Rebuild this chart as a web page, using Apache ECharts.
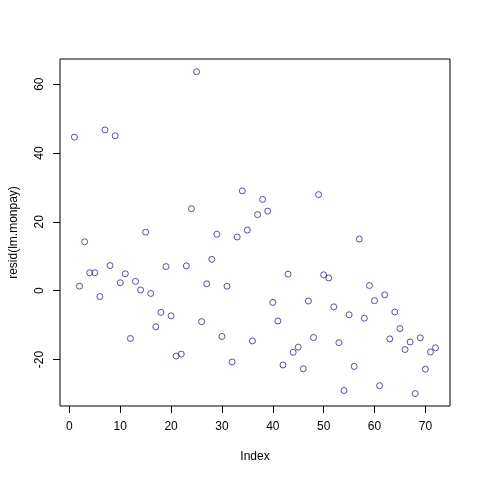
<!DOCTYPE html>
<html><head><meta charset="utf-8">
<script src="https://cdn.jsdelivr.net/npm/echarts@6/dist/echarts.min.js"></script>
<style>html,body{margin:0;padding:0;background:#fff}#c{width:480px;height:480px}</style>
</head><body><div id="c"></div>
<script>
const resid = [44.6,1.3,14.2,5.2,5.2,-1.7,46.7,7.3,45.0,2.3,4.9,-13.9,2.7,0.2,17.0,-0.8,-10.5,-6.3,7.0,-7.3,
-19.0,-18.4,7.2,23.8,63.6,-9.0,2.0,9.1,16.4,-13.3,1.3,-20.7,15.6,29.0,17.6,-14.6,22.1,26.5,23.1,-3.4,
-8.8,-21.6,4.8,-17.9,-16.4,-22.7,-3.0,-13.6,27.9,4.6,3.7,-4.7,-15.1,-29.0,-7.0,-22.0,15.0,-8.0,1.5,-2.9,
-27.6,-1.2,-14.0,-6.2,-11.0,-17.1,-14.9,-29.9,-13.7,-22.8,-17.8,-16.6];
const xTicks = [0,10,20,30,40,50,60,70];
const yTicks = [-20,0,20,40,60];
const xLabel = 'Index';
const yLabel = 'resid(lm.monpay)';

const pts = resid.map((v,i)=>[i+1,v]);
const font = 'Liberation Sans, Arial, sans-serif';
const chart = echarts.init(document.getElementById('c'), null, {renderer:'canvas'});
chart.setOption({
  animation:false,
  backgroundColor:'#fff',
  grid:{left:59,right:30,top:59,bottom:74,show:true,borderColor:'#000',borderWidth:1,backgroundColor:'transparent'},
  xAxis:{type:'value',min:-1.84,max:74.84,position:'bottom',
    axisLine:{show:false,onZero:false},splitLine:{show:false},
    axisTick:{show:true,inside:false,length:7,customValues:xTicks,lineStyle:{color:'#000'}},
    axisLabel:{show:true,customValues:xTicks,margin:15,fontFamily:font,fontSize:12,color:'#000'},
    name:xLabel,nameLocation:'middle',nameGap:45,nameTextStyle:{fontFamily:font,fontSize:12,color:'#000'}
  },
  yAxis:{type:'value',min:-33.5,max:67.3,position:'left',
    axisLine:{show:false,onZero:false},splitLine:{show:false},
    axisTick:{show:true,inside:false,length:7,customValues:yTicks,lineStyle:{color:'#000'}},
    axisLabel:{show:true,customValues:yTicks,rotate:90,margin:14,fontFamily:font,fontSize:12,color:'#000',align:'center',verticalAlign:'bottom'},
    name:yLabel,nameLocation:'middle',nameGap:40,nameRotate:90,nameTextStyle:{fontFamily:font,fontSize:12,color:'#000'}
  },
  series:[{type:'scatter',data:pts,symbol:'circle',symbolSize:6,
    itemStyle:{color:'rgba(0,0,0,0)',borderColor:'#2a2a80',borderWidth:1}}]
});
</script></body></html>
